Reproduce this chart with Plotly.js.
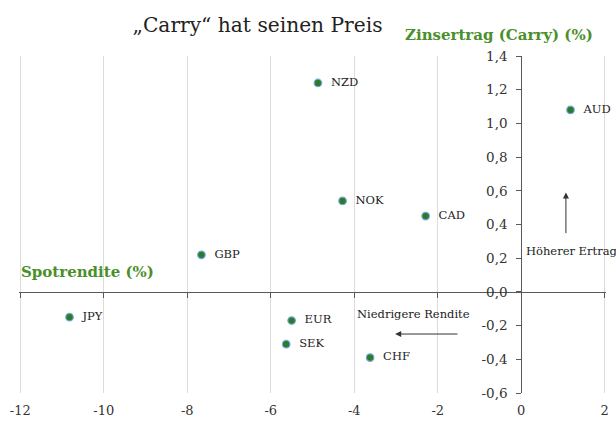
<!DOCTYPE html>
<html>
<head>
<meta charset="utf-8">
<script src="https://cdn.plot.ly/plotly-3.0.1.min.js"></script>
<style>
html,body{margin:0;padding:0;background:#fff;}
#chart{width:616px;height:421px;}
</style>
</head>
<body>
<div id="chart"></div>
<script>
// Data
const currencies = ["NZD", "AUD", "NOK", "CAD", "GBP", "JPY", "EUR", "SEK", "CHF"];
const spotReturn = [-4.87, 1.18, -4.28, -2.29, -7.66, -10.82, -5.50, -5.63, -3.62];
const carryReturn = [1.24, 1.08, 0.54, 0.45, 0.22, -0.15, -0.17, -0.31, -0.39];

const xTickVals = [-12, -10, -8, -6, -4, -2, 0, 2];
const xTickText = ["-12", "-10", "-8", "-6", "-4", "-2", "0", "2"];
const yTickVals = [-0.6, -0.4, -0.2, 0, 0.2, 0.4, 0.6, 0.8, 1.0, 1.2, 1.4];
const yTickText = ["-0,6", "-0,4", "-0,2", "0,0", "0,2", "0,4", "0,6", "0,8", "1,0", "1,2", "1,4"];

const titleText = "„Carry“ hat seinen Preis";
const xTitle = "Spotrendite (%)";
const yTitle = "Zinsertrag (Carry) (%)";
const noteUp = "Höherer Ertrag";
const noteLeft = "Niedrigere Rendite";

const SERIF = "DejaVu Serif";
const GREEN = "#4a8f2a";
const AXIS = "#595959";
const X_RANGE = [-12.03, 2.03];

const traces = [
  {
    type: "scatter",
    mode: "markers+text",
    x: spotReturn,
    y: carryReturn,
    text: currencies,
    texttemplate: "\u00a0\u00a0%{text}",
    textposition: "middle right",
    textfont: {family: SERIF, size: 11.5, color: "#222"},
    marker: {size: 7.5, color: "#2f7a2a", line: {color: "#6fa8dc", width: 1.2}},
    cliponaxis: false,
    hoverinfo: "skip",
    showlegend: false,
    xaxis: "x",
    yaxis: "y"
  },
  {
    type: "scatter", mode: "markers", x: [], y: [],
    xaxis: "x2", yaxis: "y", showlegend: false, hoverinfo: "skip"
  }
];

const layout = {
  width: 616,
  height: 421,
  margin: {l: 19, r: 10, t: 56, b: 28, pad: 0},
  paper_bgcolor: "#fff",
  plot_bgcolor: "#fff",
  showlegend: false,
  title: {
    text: titleText,
    font: {family: SERIF, size: 20.2, color: "#222"},
    xref: "container", yref: "container",
    x: 257.5 / 616, xanchor: "center",
    y: 1 - 25 / 421, yanchor: "middle"
  },
  xaxis: {
    range: X_RANGE,
    tickmode: "array",
    tickvals: xTickVals,
    ticktext: xTickText,
    showgrid: true,
    gridcolor: "#dcdcdc",
    gridwidth: 1,
    zeroline: false,
    showline: false,
    ticks: "",
    ticklabelstandoff: 8,
    tickfont: {family: SERIF, size: 13, color: "#333"},
    fixedrange: true
  },
  xaxis2: {
    overlaying: "x",
    matches: "x",
    range: X_RANGE,
    anchor: "free",
    position: 0.3,
    tickmode: "array",
    tickvals: xTickVals,
    showticklabels: false,
    showgrid: false,
    zeroline: false,
    showline: true,
    linecolor: AXIS,
    linewidth: 1,
    ticks: "outside",
    ticklen: 5,
    tickcolor: AXIS,
    fixedrange: true
  },
  yaxis: {
    range: [-0.6, 1.4],
    tickmode: "array",
    tickvals: yTickVals,
    ticktext: yTickText,
    anchor: "free",
    position: (0 - X_RANGE[0]) / (X_RANGE[1] - X_RANGE[0]),
    showgrid: false,
    zeroline: false,
    showline: true,
    linecolor: AXIS,
    linewidth: 1,
    ticks: "outside",
    ticklen: 5,
    tickcolor: AXIS,
    ticklabelstandoff: 6,
    tickfont: {family: SERIF, size: 13.5, color: "#333"},
    fixedrange: true
  },
  annotations: [
    {
      text: "<b>" + yTitle + "</b>",
      xref: "paper", yref: "paper",
      x: (499 - 19) / 587, y: (393 - 35) / 337,
      xanchor: "center", yanchor: "middle",
      showarrow: false,
      font: {family: SERIF, size: 15, color: GREEN}
    },
    {
      text: "<b>" + xTitle + "</b>",
      xref: "paper", yref: "paper",
      x: 0, y: (393 - 272) / 337,
      xanchor: "left", yanchor: "middle",
      showarrow: false,
      font: {family: SERIF, size: 15, color: GREEN}
    },
    {
      text: noteUp,
      xref: "x", yref: "y",
      x: 0.06, y: 0.24,
      xanchor: "left", yanchor: "middle",
      showarrow: false,
      font: {family: SERIF, size: 11.5, color: "#222"}
    },
    {
      text: noteLeft,
      xref: "x", yref: "y",
      x: -3.98, y: -0.13,
      xanchor: "left", yanchor: "middle",
      showarrow: false,
      font: {family: SERIF, size: 11.5, color: "#222"}
    },
    {
      text: "",
      xref: "x", yref: "y", axref: "x", ayref: "y",
      x: 1.07, y: 0.59, ax: 1.07, ay: 0.34,
      showarrow: true, arrowhead: 2, arrowsize: 1.2, arrowwidth: 1,
      arrowcolor: "#333", standoff: 0, startstandoff: 0
    },
    {
      text: "",
      xref: "x", yref: "y", axref: "x", ayref: "y",
      x: -3.02, y: -0.25, ax: -1.49, ay: -0.25,
      showarrow: true, arrowhead: 2, arrowsize: 1.2, arrowwidth: 1,
      arrowcolor: "#333", standoff: 0, startstandoff: 0
    }
  ]
};

Plotly.newPlot("chart", traces, layout, {displayModeBar: false, staticPlot: true});
</script>
</body>
</html>
